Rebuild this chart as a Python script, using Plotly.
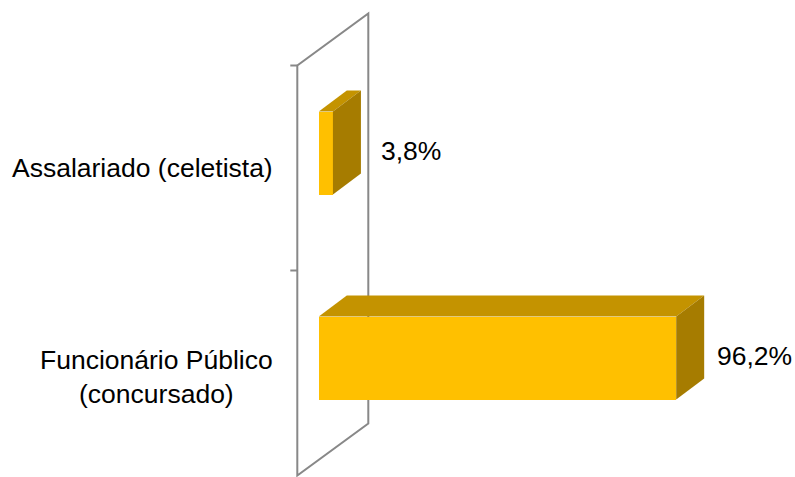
import plotly.graph_objects as go

# ---- data ----
categories = ["Funcionário Público<br>(concursado)", "Assalariado (celetista)"]
values = [96.2, 3.8]
value_labels = ["96,2%", "3,8%"]
positions = [0, 1]

# ---- styles / geometry (pixel-based constants converted to data units) ----
W, H = 795, 477
PX_PER_PCT = 3.715          # horizontal scale (px per %)
PX_PER_CAT = 205.0          # vertical size of one category band (px)
ZERO_PX = 318.8             # pixel of value 0 on bar front plane
CENTER0_PX = 373.0          # pixel of first category center on front wall

def dx(px):
    return px / PX_PER_PCT

def dy(px):
    return px / PX_PER_CAT

FRONT = "#FFC000"
TOP = "#C49300"
SIDE = "#A67C00"
WALL = "#888888"
FONT = "Liberation Sans, Arial, sans-serif"
FSIZE = 26.5

bar_shift_x, bar_shift_y = dx(21.5), dy(15)      # bar front plane vs wall front
bar_depth_x, bar_depth_y = dx(28), dy(21)        # bar depth
wall_depth_x, wall_depth_y = dx(71), dy(52)      # wall depth
bar_w = dy(83)
wall_x = -bar_shift_x

fig = go.Figure()

# 3D side faces (scatter polygons computed from data)
for v, p in zip(values, positions):
    yc = p + bar_shift_y
    t, b = yc + bar_w / 2, yc - bar_w / 2
    fig.add_trace(go.Scatter(
        x=[0, v, v + bar_depth_x, bar_depth_x, 0],
        y=[t, t, t + bar_depth_y, t + bar_depth_y, t],
        fill="toself", fillcolor=TOP, mode="lines", line=dict(width=0, color=TOP),
        hoverinfo="skip", showlegend=False))
    fig.add_trace(go.Scatter(
        x=[v, v, v + bar_depth_x, v + bar_depth_x, v],
        y=[t, b, b + bar_depth_y, t + bar_depth_y, t],
        fill="toself", fillcolor=SIDE, mode="lines", line=dict(width=0, color=SIDE),
        hoverinfo="skip", showlegend=False))

# front faces
fig.add_trace(go.Bar(
    x=values, y=[p + bar_shift_y for p in positions], orientation="h",
    base=0, width=bar_w, marker=dict(color=FRONT, line=dict(width=0)),
    hoverinfo="skip", showlegend=False))

# wall (back plane outline) as shapes below traces
y_lo, y_hi = min(positions) - 0.5, max(positions) + 0.5
wall_pts = [
    (wall_x, y_lo), (wall_x, y_hi),
    (wall_x + wall_depth_x, y_hi + wall_depth_y),
    (wall_x + wall_depth_x, y_lo + wall_depth_y),
]
path = "M " + " L ".join(f"{x},{y}" for x, y in wall_pts) + " Z"
fig.add_shape(type="path", path=path, xref="x", yref="y", layer="below",
              line=dict(color=WALL, width=2), fillcolor="rgba(0,0,0,0)")
for p in positions:
    fig.add_shape(type="line", xref="x", yref="y", layer="below",
                  x0=wall_x - dx(7), x1=wall_x, y0=p + 0.5, y1=p + 0.5,
                  line=dict(color=WALL, width=2))

# category labels
for cat, p in zip(categories, positions):
    fig.add_annotation(x=wall_x - dx(22), y=p + dy(-4 if "<br>" in cat else 0),
                       text=cat, showarrow=False, xanchor="right", yanchor="middle",
                       align="center", font=dict(family=FONT, size=FSIZE, color="#000"))

# value labels (centered a fixed distance past the bar end)
for v, p, lab in zip(values, positions, value_labels):
    fig.add_annotation(x=v + dx(78.5), y=p + bar_shift_y + dy(2), text=lab,
                       showarrow=False, xanchor="center", yanchor="middle",
                       font=dict(family=FONT, size=FSIZE, color="#000"))

x_min = -ZERO_PX / PX_PER_PCT
x_max = (W - ZERO_PX) / PX_PER_PCT
y_max = CENTER0_PX / PX_PER_CAT
y_min = (CENTER0_PX - H) / PX_PER_CAT

fig.update_layout(
    width=W, height=H, margin=dict(l=0, r=0, t=0, b=0),
    paper_bgcolor="white", plot_bgcolor="white",
    xaxis=dict(range=[x_min, x_max], visible=False, fixedrange=True),
    yaxis=dict(range=[y_min, y_max], visible=False, fixedrange=True),
    bargap=0,
)

fig.write_html("out.html")
